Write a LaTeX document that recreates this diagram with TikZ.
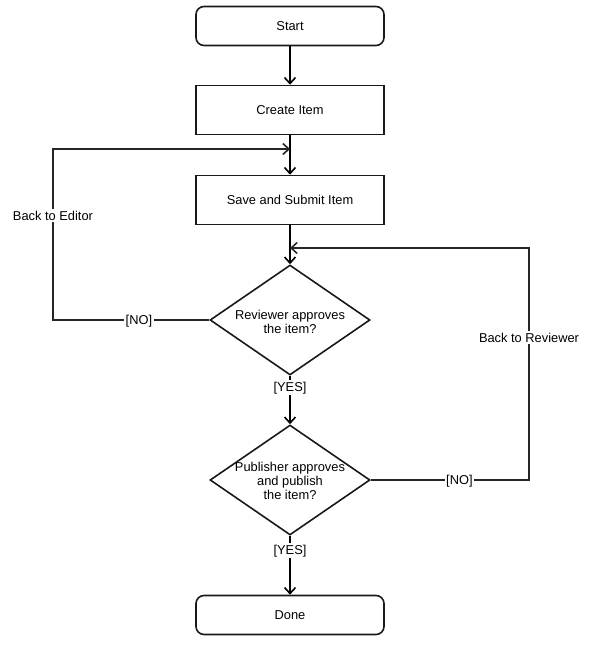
\documentclass[tikz,border=0pt]{standalone}
\usepackage{fontspec}
\setmainfont{Liberation Sans}
\usetikzlibrary{shapes.geometric,arrows.meta}
\tikzset{
  every node/.style={font=\fontsize{12.9}{14}\selectfont, text=black},
  term/.style={draw=black!90, line width=1.6bp, rounded corners=8bp, minimum width=188bp, minimum height=39bp, inner sep=0},
  proc/.style={draw=black!90, line width=1.6bp, minimum width=188bp, minimum height=49bp, inner sep=0},
  decision/.style={draw=black!90, line width=1.6bp, diamond, minimum width=160bp, minimum height=110bp, inner sep=0},
  flow/.style={draw=black, line width=1.8bp, -{Straight Barb[length=6bp,width=11bp,line width=1.6bp]}},
  ret/.style={draw=black!85, line width=1.8bp, -{Straight Barb[length=6bp,width=11bp,line width=1.6bp]}},
  lbl/.style={fill=white, inner sep=1.5bp, yshift=-1.5bp}
}
\begin{document}
\begin{tikzpicture}[x=1bp,y=-1bp]
\useasboundingbox (0,0) rectangle (598,655);
\node[term] (start) at (290,26) {Start};
\node[proc] (create) at (290,110) {Create Item};
\node[proc] (save) at (290,200) {Save and Submit Item};
\node[decision] (d1) at (290,320) {};
\node[align=center] (t1) at (290,321.5) {Reviewer approves\\the item?};
\node[decision] (d2) at (290,480) {};
\node[align=center] (t2) at (290,481) {Publisher approves\\and publish\\the item?};
\node[term] (done) at (290,615) {Done};
\coordinate (j1) at (290,149);
\coordinate (j2) at (290,248);
\coordinate (c1) at (53,320);
\coordinate (c2) at (53,149);
\coordinate (c3) at (529,480);
\coordinate (c4) at (529,248);

\draw[flow] (start) -- (create);
\draw[flow] (create) -- (save);
\draw[flow] (save) -- (d1.north);
\draw[flow] (d1.south) -- node[lbl,pos=0.22]{[YES]} (d2.north);
\draw[flow] (d2.south) -- node[lbl,pos=0.23]{[YES]} (done);
\draw[ret] (d1.west) -- node[lbl,pos=0.45]{[NO]} (c1) -- node[lbl,pos=0.62]{Back to Editor} (c2) -- (j1);
\draw[ret] (d2.east) -- node[lbl,pos=0.56]{[NO]} (c3) -- node[lbl,pos=0.62]{Back to Reviewer} (c4) -- (j2);
\end{tikzpicture}
\end{document}
